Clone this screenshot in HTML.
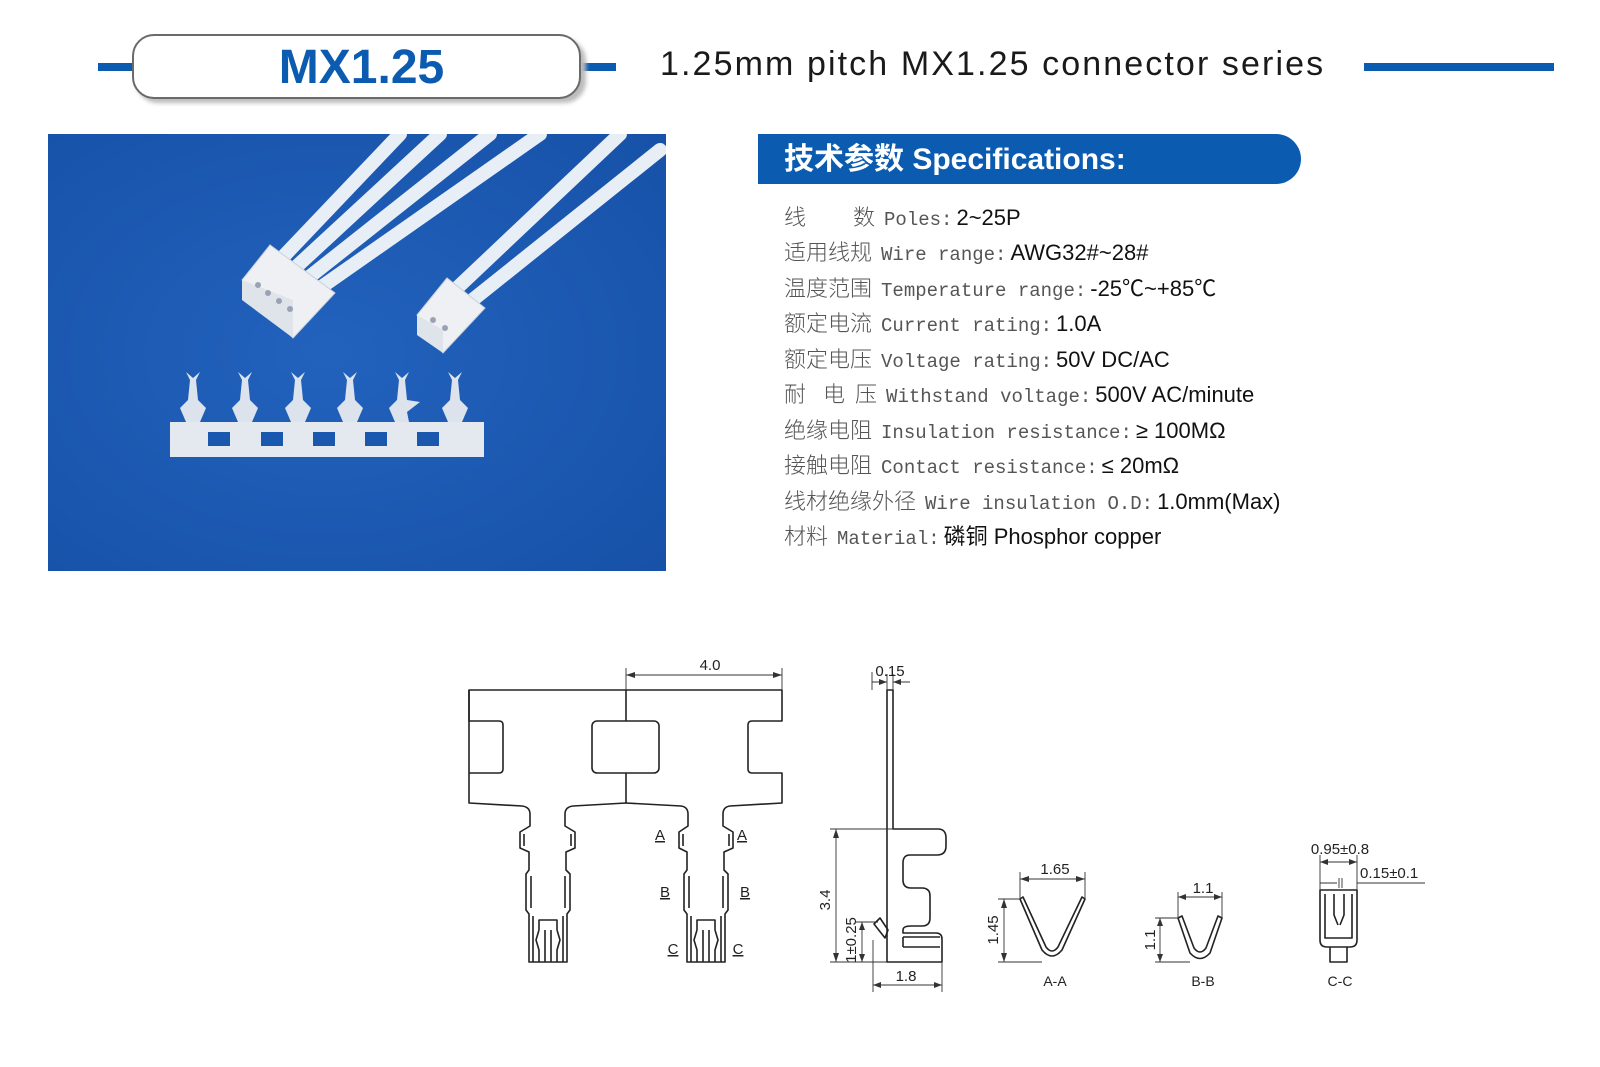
<!DOCTYPE html>
<html><head><meta charset="utf-8"><style>
body{margin:0;width:1600px;height:1067px;background:#fff;position:relative;overflow:hidden;font-family:"Liberation Sans","Noto Sans CJK SC",sans-serif}
.abs{position:absolute}
.line{position:absolute;left:784px;height:30px;line-height:30px;white-space:nowrap;display:flex;align-items:baseline}
.cj{font-family:"Noto Sans CJK SC",sans-serif;font-size:22px;color:#555;font-weight:300}
.en{font-family:"Liberation Mono",monospace;font-size:19px;color:#555;margin-left:9px}
.v{font-family:"Liberation Sans","Noto Sans CJK SC",sans-serif;font-size:22px;color:#111;margin-left:4px}
</style></head><body>
<div class="abs" style="left:98px;top:63px;width:36px;height:8px;background:#0b5bb0"></div>
<div class="abs" style="left:582px;top:63px;width:34px;height:8px;background:#0b5bb0"></div>
<div class="abs" style="left:1364px;top:63px;width:190px;height:8px;background:#0b5bb0"></div>
<div class="abs" style="left:136px;top:39px;width:450px;height:64px;border-radius:22px;background:#bbb;filter:blur(2px)"></div>
<div class="abs" style="left:132px;top:34px;height:61px;border:2px solid #6a6a6a;border-radius:22px;background:#fff;text-align:center;line-height:63px;font-weight:bold;font-size:48px;color:#0b5bb0;padding-left:10px;box-sizing:content-box;width:435px">MX1.25</div>
<div class="abs" style="left:660px;top:45px;font-size:34px;color:#1a1a1a;letter-spacing:2.1px;white-space:nowrap">1.25mm pitch MX1.25 connector series</div>

<svg class="abs" style="left:48px;top:134px" width="618" height="437" viewBox="48 134 618 437">
<defs><radialGradient id="bg" cx="0.45" cy="0.5" r="0.8"><stop offset="0" stop-color="#2262bd"/><stop offset="1" stop-color="#1650a6"/></radialGradient></defs>
<rect x="48" y="134" width="618" height="437" fill="url(#bg)"/>
<g stroke="#e8eef6" stroke-width="14" stroke-linecap="round" fill="none">
<path d="M282,258 L400,134"/><path d="M295,268 L440,134"/><path d="M308,278 L490,134"/><path d="M320,288 L540,134"/>
<path d="M455,290 L620,134"/><path d="M470,302 L660,150"/>
</g>
<polygon points="242,280 270,245 335,293 293,338" fill="#eef0f4" stroke="#c9d0dc"/>
<polygon points="242,280 293,300 293,338 242,300" fill="#dfe3ea"/>
<polygon points="417,315 447,278 485,308 443,353" fill="#eef0f4" stroke="#c9d0dc"/>
<polygon points="417,315 443,330 443,353 417,335" fill="#dfe3ea"/>
<g fill="#9aa3b3"><circle cx="258" cy="285" r="3"/><circle cx="268" cy="293" r="3"/><circle cx="279" cy="301" r="3"/><circle cx="290" cy="309" r="3"/><circle cx="433" cy="320" r="3"/><circle cx="445" cy="328" r="3"/></g>
<path d="M170,422 H484 V457 H170 Z" fill="#e4e8ef"/>
<g fill="#1a58b0"><rect x="208" y="432" width="22" height="14"/><rect x="261" y="432" width="22" height="14"/><rect x="313" y="432" width="22" height="14"/><rect x="365" y="432" width="22" height="14"/><rect x="417" y="432" width="22" height="14"/></g>
<g fill="#dde3ec">
<path d="M186,422 L180,408 L188,400 L190,380 L186,372 L193,378 L200,372 L196,380 L198,400 L206,408 L200,422Z"/>
<path d="M238,422 L232,408 L240,400 L242,380 L238,372 L245,378 L252,372 L248,380 L250,400 L258,408 L252,422Z"/>
<path d="M291,422 L285,408 L293,400 L295,380 L291,372 L298,378 L305,372 L301,380 L303,400 L311,408 L305,422Z"/>
<path d="M343,422 L337,408 L345,400 L347,380 L343,372 L350,378 L357,372 L353,380 L355,400 L363,408 L357,422Z"/>
<path d="M395,422 L389,408 L397,400 L399,380 L395,372 L402,378 L409,372 L405,380 L407,400 L420,402 L407,412 L409,422Z"/>
<path d="M448,422 L442,408 L450,400 L452,380 L448,372 L455,378 L462,372 L458,380 L460,400 L468,408 L462,422Z"/>
</g>
</svg>

<div class="abs" style="left:758px;top:134px;width:543px;height:50px;background:#0b5bb0;border-radius:0 25px 25px 0"></div>
<div class="abs" style="left:784px;top:139px;font-size:30px;font-weight:bold;color:#fff;white-space:nowrap;line-height:42px">技术参数 Specifications:</div>

<div class="line" style="top:201px"><span class="cj">线<span style="display:inline-block;width:47px"></span>数</span><span class="en">Poles:</span><span class="v">2~25P</span></div>
<div class="line" style="top:236px"><span class="cj">适用线规</span><span class="en">Wire range:</span><span class="v">AWG32#~28#</span></div>
<div class="line" style="top:272px"><span class="cj">温度范围</span><span class="en">Temperature range:</span><span class="v">-25℃~+85℃</span></div>
<div class="line" style="top:307px"><span class="cj">额定电流</span><span class="en">Current rating:</span><span class="v">1.0A</span></div>
<div class="line" style="top:343px"><span class="cj">额定电压</span><span class="en">Voltage rating:</span><span class="v">50V DC/AC</span></div>
<div class="line" style="top:378px"><span class="cj">耐<span style="display:inline-block;width:17px"></span>电<span style="display:inline-block;width:10px"></span>压</span><span class="en">Withstand voltage:</span><span class="v">500V AC/minute</span></div>
<div class="line" style="top:414px"><span class="cj">绝缘电阻</span><span class="en">Insulation resistance:</span><span class="v">≥ 100MΩ</span></div>
<div class="line" style="top:449px"><span class="cj">接触电阻</span><span class="en">Contact resistance:</span><span class="v">≤ 20mΩ</span></div>
<div class="line" style="top:485px"><span class="cj">线材绝缘外径</span><span class="en">Wire insulation O.D:</span><span class="v">1.0mm(Max)</span></div>
<div class="line" style="top:520px"><span class="cj">材料</span><span class="en">Material:</span><span class="v">磷铜 Phosphor copper</span></div>

<svg class="abs" style="left:0;top:0" width="1600" height="1067" viewBox="0 0 1600 1067">
<g fill="none" stroke="#222" stroke-width="1.6" stroke-linejoin="round">
<path d="M469,690 H782 V721 H752 Q748,721 748,725 V769 Q748,773 752,773 H782 V803 L730,806 Q723,807 723,814 V826 L733,832 V848 L724,852 V870 L728,874 V910 L725,914 V962 H687 V914 L684,910 V874 L687,870 V852 L679,848 V832 L688,826 V814 Q688,807 681,806 L626,803 L573,806 Q565,807 565,814 V826 L575,832 V848 L566,852 V870 L570,874 V910 L567,914 V962 H529 V914 L526,910 V874 L529,870 V852 L520,848 V832 L530,826 V814 Q530,807 522,806 L469,803 H469 Z"/>
<path d="M469,690 V721 H499 Q503,721 503,725 V769 Q503,773 499,773 H469"/>
<rect x="592" y="721" width="67" height="52" rx="5"/>
<path d="M626,690 V721 M626,773 V803"/>
<path d="M524,834 V846 M571,834 V846 M683,834 V846 M729,834 V846 M531,876 V908 M565,876 V908 M689,876 V908 M723,876 V908 M533,916 V962 M563,916 V962 M691,916 V962 M721,916 V962"/>
<path d="M539,930 V920 H557 V930 M539,930 L536,940 L539,950 V962 M557,930 L560,940 L557,950 V962 M545,930 V962 M551,930 V962"/>
<path d="M697,930 V920 H715 V930 M697,930 L694,940 L697,950 V962 M715,930 L718,940 L715,950 V962 M703,930 V962 M709,930 V962"/>
<path d="M887,690 H893 V829 H938 Q946,829 946,838 V846 Q946,855 937,855 H910 Q903,855 903,863 V880 Q903,888 911,888 H922 Q930,888 930,896 V918 Q930,926 922,926 H911 Q903,926 903,930 V933 H936 Q942,933 942,939 V962 H887 Z"/>
<path d="M903,937 H940 M903,947 H940 M903,937 V947"/>
<path d="M874,924 L880,918 L888,930 L885,938 Z"/>
<path d="M1020,899 L1042,950 Q1052,962 1062,950 L1085,899 L1082,897 L1058,947 Q1052,955 1046,947 L1023,897 Z"/>
<path d="M1178,918 L1190,953 Q1200,964 1210,953 L1222,918 L1218,916 L1206,948 Q1200,956 1194,948 L1182,916 Z"/>
<path d="M1320,890 H1357 V940 Q1357,947 1350,947 H1327 Q1320,947 1320,940 Z M1325,894 V938 H1352 V894 M1334,894 V915 L1338,925 M1344,894 V915 L1340,925 M1330,947 V962 H1347 V947"/>
</g>
<g fill="none" stroke="#333" stroke-width="0.9">
<path d="M626,690 V668 M782,690 V668 M626,675 H782"/>
<path d="M872,690 V672 M887,682 H872 M893,682 H910 M887,674 V690 M893,674 V690"/>
<path d="M893,829 H830 M887,962 H830 M836,829 V962"/>
<path d="M878,922 H856 M862,922 V962"/>
<path d="M873,940 V992 M942,962 V992 M873,985 H942"/>
<path d="M1020,899 V872 M1085,899 V872 M1020,879 H1085 M1020,899 H998 M1042,962 H998 M1004,899 V962"/>
<path d="M1178,918 V892 M1222,918 V892 M1178,897 H1222 M1178,918 H1155 M1190,962 H1155 M1160,918 V962"/>
<path d="M1320,890 V855 M1357,890 V855 M1320,862 H1357 M1357,883 H1425 M1337,883 H1320 M1339,878 V888 M1342,878 V888"/>
</g>
<g fill="#333">
<path d="M626,675 l9,-3 v6z M782,675 l-9,-3 v6z M887,682 l-8,-3 v6z M893,682 l8,-3 v6z M836,829 l-3,9 h6z M836,962 l-3,-9 h6z M862,922 l-3,8 h6z M862,962 l-3,-8 h6z M873,985 l8,-3 v6z M942,985 l-8,-3 v6z M1020,879 l9,-3 v6z M1085,879 l-9,-3 v6z M1004,899 l-3,9 h6z M1004,962 l-3,-9 h6z M1178,897 l8,-3 v6z M1222,897 l-8,-3 v6z M1160,918 l-3,8 h6z M1160,962 l-3,-8 h6z M1320,862 l8,-3 v6z M1357,862 l-8,-3 v6z"/>
</g>
<g font-family="Liberation Sans, sans-serif" font-size="15" fill="#222">
<text x="710" y="670" text-anchor="middle">4.0</text>
<text x="890" y="676" text-anchor="middle">0.15</text>
<text x="906" y="981" text-anchor="middle">1.8</text>
<text transform="translate(830,900) rotate(-90)" text-anchor="middle">3.4</text>
<text transform="translate(856,940) rotate(-90)" text-anchor="middle">1±0.25</text>
<text x="1055" y="874" text-anchor="middle">1.65</text>
<text transform="translate(998,930) rotate(-90)" text-anchor="middle">1.45</text>
<text x="1203" y="893" text-anchor="middle">1.1</text>
<text transform="translate(1155,940) rotate(-90)" text-anchor="middle">1.1</text>
<text x="1340" y="854" text-anchor="middle">0.95±0.8</text>
<text x="1360" y="878">0.15±0.1</text>
<text x="1055" y="986" text-anchor="middle" font-size="14">A-A</text>
<text x="1203" y="986" text-anchor="middle" font-size="14">B-B</text>
<text x="1340" y="986" text-anchor="middle" font-size="14">C-C</text>
<text x="660" y="840" text-anchor="middle" text-decoration="underline">A</text>
<text x="742" y="840" text-anchor="middle" text-decoration="underline">A</text>
<text x="665" y="897" text-anchor="middle" text-decoration="underline">B</text>
<text x="745" y="897" text-anchor="middle" text-decoration="underline">B</text>
<text x="673" y="954" text-anchor="middle" text-decoration="underline">C</text>
<text x="738" y="954" text-anchor="middle" text-decoration="underline">C</text>
</g>
</svg>
</body></html>
